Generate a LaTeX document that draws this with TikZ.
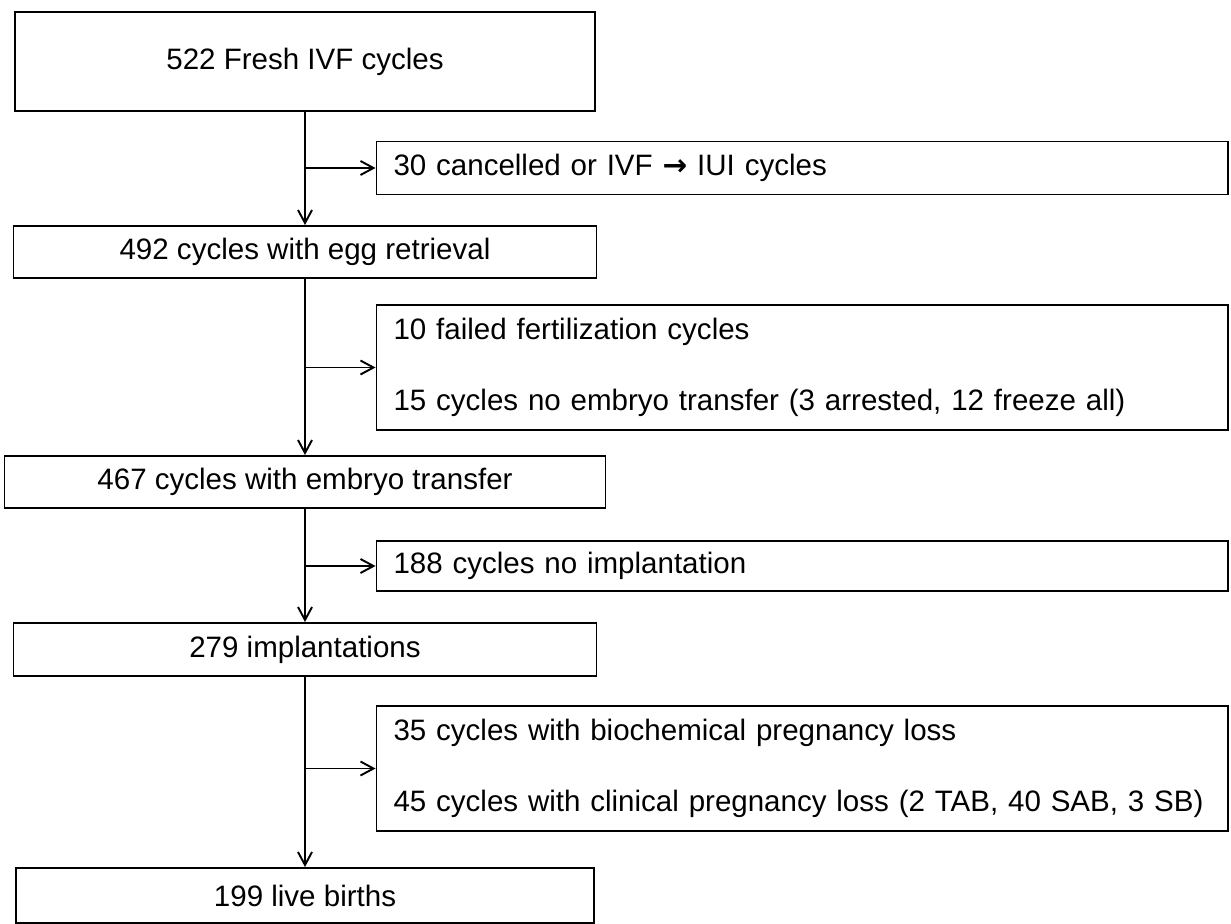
\documentclass[tikz,border=0pt]{standalone}
\usepackage{fontspec}
\setmainfont{Liberation Sans}
\newfontfamily\arrowfont{DejaVu Sans}
\usetikzlibrary{arrows.meta, positioning}

\begin{document}
\begin{tikzpicture}[
    line width=1.1pt,
    every node/.style={font=\fontsize{16.8}{40.4}\selectfont},
    mainbox/.style={draw, inner ysep=0pt, align=center},
    sidebox/.style={draw, inner ysep=0pt, inner xsep=0.34cm,
      text width=16.35cm, align=left},
    flow/.style={-{Straight Barb[length=0.26cm, width=0.28cm]}}
  ]
  \useasboundingbox (0,0) rectangle (24.62,-18.48);
  % main column
  \def\mx{6.1} \def\sx{16.045}
  \node[mainbox, minimum width=11.59cm, minimum height=1.98cm] (fresh)
    at (\mx,-1.23) {522 Fresh IVF cycles};
  \node[mainbox, minimum width=11.66cm, minimum height=1.04cm] (retrieval)
    at (\mx,-5.04) {492 cycles with egg retrieval};
  \node[mainbox, minimum width=12.02cm, minimum height=1.04cm] (transfer)
    at (\mx,-9.64) {467 cycles with embryo transfer};
  \node[mainbox, minimum width=11.66cm, minimum height=1.06cm] (implant)
    at (\mx,-12.99) {279 implantations};
  \node[mainbox, minimum width=11.56cm, minimum height=1.1cm] (births)
    at (\mx,-17.91) {199 live births};
  % exclusions
  \node[sidebox, minimum height=1.06cm] (cancel) at (\sx,-3.36)
    {30 cancelled or IVF {\arrowfont\bfseries →} IUI cycles};
  \node[sidebox, minimum height=2.5cm] (nofert) at (\sx,-7.35)
    {10 failed fertilization cycles\\
     15 cycles no embryo transfer (3 arrested, 12 freeze all)};
  \node[sidebox, minimum height=1.0cm] (noimpl) at (\sx,-11.32)
    {188 cycles no implantation};
  \node[sidebox, minimum height=2.5cm] (loss) at (\sx,-15.37)
    {35 cycles with biochemical pregnancy loss\\
     45 cycles with clinical pregnancy loss (2 TAB, 40 SAB, 3 SB)};
  % branch points on the main line
  \coordinate (b1) at (fresh.south |- cancel.west);
  \coordinate (b2) at (retrieval.south |- nofert.west);
  \coordinate (b3) at (transfer.south |- noimpl.west);
  \coordinate (b4) at (implant.south |- loss.west);
  % arrows
  \draw[flow] (fresh) -- (retrieval);
  \draw[flow] (retrieval) -- (transfer);
  \draw[flow] (transfer) -- (implant);
  \draw[flow] (implant) -- (births);
  \draw[flow] (b1) -- (cancel.west);
  \draw[flow] (b2) -- (nofert.west);
  \draw[flow] (b3) -- (noimpl.west);
  \draw[flow] (b4) -- (loss.west);
\end{tikzpicture}
\end{document}
